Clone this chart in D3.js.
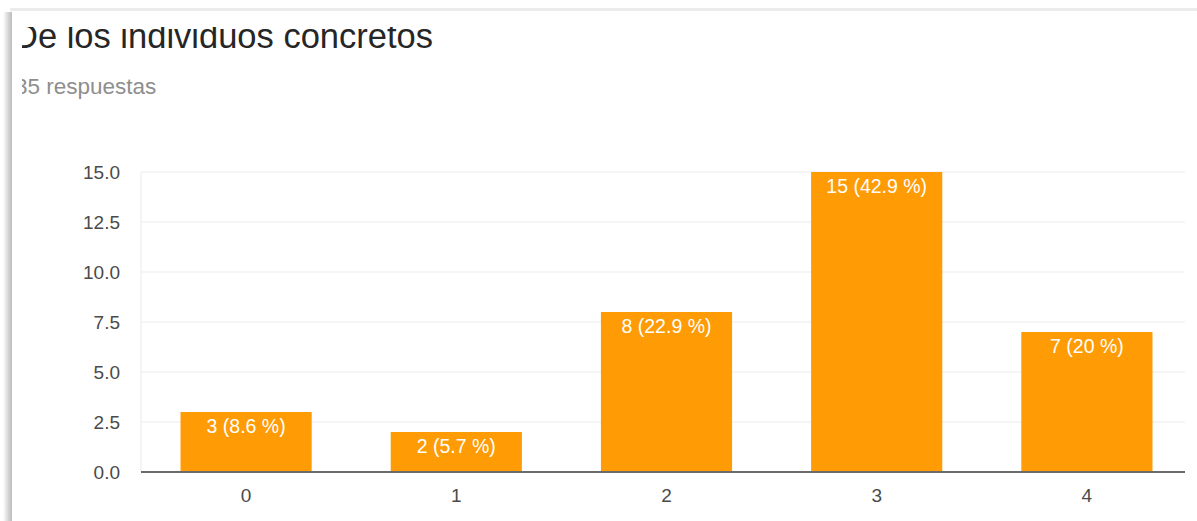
<!DOCTYPE html>
<html>
<head>
<meta charset="utf-8">
<script src="https://cdn.jsdelivr.net/npm/d3@7"></script>
<style>
  html, body { margin: 0; padding: 0; background: #fff; }
  svg { display: block; }
</style>
</head>
<body>
<svg id="chart" width="1197" height="521"></svg>
<script>
// Chart data
const title = "De los individuos concretos";
const subtitle = "35 respuestas";
const categories = ["0", "1", "2", "3", "4"];
const counts = [3, 2, 8, 15, 7];
const percents = ["8.6", "5.7", "22.9", "42.9", "20"];
const yTicks = [0, 2.5, 5, 7.5, 10, 12.5, 15];

const W = 1197, H = 521;
const FONT = "'Liberation Sans', Arial, sans-serif";
const svg = d3.select("#chart");

// Card with a soft shadow along its top and left edges
const defs = svg.append("defs");
const lg = defs.append("linearGradient").attr("id", "leftShadow").attr("x1", 0).attr("x2", 1);
lg.append("stop").attr("offset", "0%").attr("stop-color", "#fff");
lg.append("stop").attr("offset", "60%").attr("stop-color", "#d4d4d4");
lg.append("stop").attr("offset", "100%").attr("stop-color", "#bcbcbc");
svg.append("rect").attr("x", 3).attr("y", 12).attr("width", 9).attr("height", H - 12).attr("fill", "url(#leftShadow)");
svg.append("rect").attr("x", 10).attr("y", 8).attr("width", W - 10).attr("height", 3).attr("fill", "#ececec");
svg.append("rect").attr("x", 12).attr("y", 11).attr("width", W - 12).attr("height", H - 11).attr("fill", "#fff");

// Header text is cut off by the visible card viewport
defs.append("clipPath").attr("id", "titleClip")
  .append("rect").attr("x", 22).attr("y", 27).attr("width", W).attr("height", 40);
defs.append("clipPath").attr("id", "subClip")
  .append("rect").attr("x", 22).attr("y", 70).attr("width", W).attr("height", 40);

svg.append("text")
  .attr("clip-path", "url(#titleClip)")
  .attr("x", 13).attr("y", 48)
  .attr("font-family", FONT)
  .attr("font-size", 34.5)
  .attr("fill", "#262626")
  .text(title);
svg.append("text")
  .attr("clip-path", "url(#subClip)")
  .attr("x", 15).attr("y", 94)
  .attr("font-family", FONT)
  .attr("font-size", 22.5)
  .attr("fill", "#8e8e8e")
  .text(subtitle);

// Scales
const x = d3.scaleBand().domain(categories).range([141, 1192]).paddingInner(0.376).paddingOuter(0.188);
const y = d3.scaleLinear().domain([0, 15]).range([472, 172]);
const plotLeft = 141, plotRight = 1185;

// Gridlines
svg.append("g")
  .selectAll("line")
  .data(yTicks)
  .join("line")
  .attr("x1", plotLeft).attr("x2", plotRight)
  .attr("y1", d => y(d)).attr("y2", d => y(d))
  .attr("stroke", "#ebebeb").attr("stroke-width", 1);

// Left plot edge
svg.append("line")
  .attr("x1", plotLeft).attr("x2", plotLeft)
  .attr("y1", y(15)).attr("y2", y(0))
  .attr("stroke", "#ebebeb");

// Y axis labels
const yAxis = d3.axisLeft(y).tickValues(yTicks).tickFormat(d3.format(".1f")).tickSize(0).tickPadding(21);
const gy = svg.append("g").attr("transform", `translate(${plotLeft},0)`).call(yAxis);
gy.select(".domain").remove();
gy.selectAll("text")
  .attr("font-family", FONT)
  .attr("font-size", 19)
  .attr("fill", "#4a4a4a");

// Bars
svg.append("g")
  .selectAll("rect")
  .data(counts)
  .join("rect")
  .attr("x", (d, i) => x(categories[i]))
  .attr("y", d => y(d))
  .attr("width", x.bandwidth())
  .attr("height", d => y(0) - y(d))
  .attr("fill", "#ff9b04");

// Value labels inside bars
svg.append("g")
  .selectAll("text")
  .data(counts)
  .join("text")
  .attr("x", (d, i) => x(categories[i]) + x.bandwidth() / 2)
  .attr("y", d => y(d) + 21)
  .attr("text-anchor", "middle")
  .attr("font-family", FONT)
  .attr("font-size", 19.5)
  .attr("fill", "#fff")
  .text((d, i) => `${d} (${percents[i]} %)`);

// X axis
const xAxis = d3.axisBottom(x).tickSize(0).tickPadding(16.5);
const gx = svg.append("g").attr("transform", `translate(0,${y(0)})`).call(xAxis);
gx.select(".domain").remove();
gx.selectAll("text")
  .attr("font-family", FONT)
  .attr("font-size", 19)
  .attr("fill", "#4a4a4a");
svg.append("line")
  .attr("x1", plotLeft).attr("x2", plotRight)
  .attr("y1", y(0)).attr("y2", y(0))
  .attr("stroke", "#6b6b6b").attr("stroke-width", 2);
</script>
</body>
</html>
